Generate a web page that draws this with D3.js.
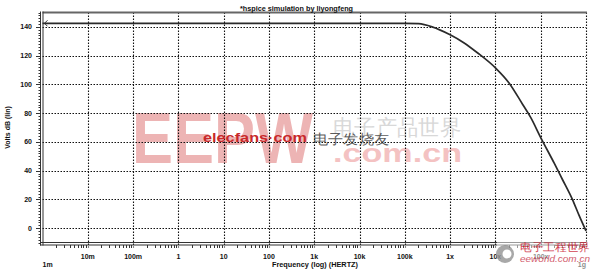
<!DOCTYPE html>
<html>
<head>
<meta charset="utf-8">
<script src="https://cdn.jsdelivr.net/npm/d3@7"></script>
<style>
  body { margin: 0; background: #fff; }
  text { font-family: "Liberation Sans", Arial, sans-serif; }
</style>
</head>
<body>
<svg id="svg1" width="593" height="274"></svg>
<script>
// frequency tick values and their labels (hspice style: x = meg)
var tickFreqs = [1e-3, 1e-2, 1e-1, 1, 10, 100, 1e3, 1e4, 1e5, 1e6, 1e7, 1e8, 1e9];
var tickNames = ["1m", "10m", "100m", "1", "10", "100", "1k", "10k", "100k", "1x", "10x", "100x", "1g"];
var dbTicks = [0, 20, 40, 60, 80, 100, 120, 140];

// response
var freq = [1e-3, 1e3, 1e5, 2e5, 4e5, 1e6, 2e6, 4e6, 1e7, 2e7, 4e7, 6e7, 1e8, 2e8, 3e8, 5e8, 7e8, 1e9];
var gain = [142.5, 142.5, 142.5, 142.2, 140, 134.5, 129, 122, 111.5, 101, 86, 77, 63, 45, 34, 20, 9, -2];

var svg = d3.select("#svg1"),
    margin = {top: 12.5, right: 7, bottom: 31.5, left: 42.5},
    width = +svg.attr("width") - margin.left - margin.right,
    height = +svg.attr("height") - margin.top - margin.bottom;

var x = d3.scaleLog().domain([1e-3, 1e9]).range([margin.left, margin.left + width]);
var y = d3.scaleLinear().domain([-10, 150]).range([margin.top + height, margin.top]);

var x0 = x.range()[0], x1 = x.range()[1], yb = y(-10), yt = y(150);

// watermarks (behind the grid)
var wm = svg.append("g").attr("class", "wm");
wm.append("text").attr("x", 132).attr("y", 163).text("EEPW")
  .attr("font-family", "Liberation Sans").attr("font-weight", "bold").attr("font-size", 72)
  .attr("textLength", 181).attr("lengthAdjust", "spacingAndGlyphs")
  .attr("fill", "#e07878").attr("opacity", 0.55);
wm.append("text").attr("x", 333).attr("y", 162).text(".com.cn")
  .attr("font-weight", "bold").attr("font-size", 26)
  .attr("textLength", 129).attr("lengthAdjust", "spacingAndGlyphs")
  .attr("fill", "#ee9a9a").attr("opacity", 0.6);
wm.append("text").attr("x", 333).attr("y", 135).text("电子产品世界")
  .attr("font-family", "Noto Sans CJK SC").attr("font-size", 22)
  .attr("textLength", 128).attr("lengthAdjust", "spacingAndGlyphs")
  .attr("fill", "#aaa").attr("opacity", 0.45);

// grid
var grid = svg.append("g").attr("stroke", "#111").attr("stroke-dasharray", "1.5,1.5").attr("stroke-width", 1.1);
grid.selectAll(".vg").data(tickFreqs.slice(1)).enter().append("line")
  .attr("x1", function(d) { return Math.round(x(d)) + 0.5; })
  .attr("x2", function(d) { return Math.round(x(d)) + 0.5; })
  .attr("y1", yt).attr("y2", yb + 5);
grid.selectAll(".hg").data(dbTicks).enter().append("line")
  .attr("x1", x0).attr("x2", x1)
  .attr("y1", function(d) { return Math.round(y(d)) + 0.5; })
  .attr("y2", function(d) { return Math.round(y(d)) + 0.5; });

// frame
svg.append("line").attr("x1", x0).attr("x2", x1 + 1).attr("y1", yt).attr("y2", yt)
  .attr("stroke", "#666").attr("stroke-width", 2);
[40.5, 43].forEach(function(p) {
  svg.append("line").attr("x1", p).attr("x2", p).attr("y1", yt - 1).attr("y2", yb + 3)
    .attr("stroke", "#333").attr("stroke-width", 1);
});
[yb, yb + 2.5].forEach(function(p) {
  svg.append("line").attr("x1", 40).attr("x2", x1).attr("y1", p).attr("y2", p)
    .attr("stroke", "#333").attr("stroke-width", 1);
});

// y ticks
var ax = svg.append("g").attr("stroke", "#333").attr("stroke-width", 1);
ax.selectAll(".ym").data(d3.range(-10, 151, 2)).enter().append("line")
  .attr("x1", function(d) { return d % 20 === 0 ? 36 : 38.5; }).attr("x2", 40.5)
  .attr("y1", function(d) { return Math.round(y(d)) + 0.5; })
  .attr("y2", function(d) { return Math.round(y(d)) + 0.5; });

// x minor ticks
var minor = [];
tickFreqs.slice(0, -1).forEach(function(f) { for (var k = 2; k < 10; k++) minor.push(f * k); });
ax.selectAll(".xm").data(minor).enter().append("line")
  .attr("x1", function(d) { return Math.round(x(d)) + 0.5; })
  .attr("x2", function(d) { return Math.round(x(d)) + 0.5; })
  .attr("y1", yb + 2.5).attr("y2", yb + 5.5);

// tick labels
var lab = svg.append("g").attr("font-size", 7).attr("font-weight", "bold").attr("fill", "#111");
lab.selectAll(".yl").data(dbTicks).enter().append("text")
  .attr("x", 32).attr("y", function(d) { return y(d) + 2.5; })
  .attr("text-anchor", "end").text(function(d) { return d; });
lab.selectAll(".xl").data(tickFreqs).enter().append("text")
  .attr("x", function(d, i) { return i === 0 ? x0 : (i === tickFreqs.length - 1 ? x1 : x(d)); })
  .attr("y", function(d, i) { return (i === 0 || i === tickFreqs.length - 1) ? 267 : 258.5; })
  .attr("text-anchor", function(d, i) { return i === 0 ? "start" : (i === tickFreqs.length - 1 ? "end" : "middle"); })
  .text(function(d, i) { return tickNames[i]; });

// titles
svg.append("text").attr("x", 296.5).attr("y", 10.5).attr("text-anchor", "middle")
  .attr("font-size", 7).attr("font-weight", "bold").attr("fill", "#111")
  .attr("textLength", 113).attr("lengthAdjust", "spacingAndGlyphs")
  .text("*hspice simulation by liyongfeng");
svg.append("text").attr("x", 315).attr("y", 267).attr("text-anchor", "middle")
  .attr("font-size", 7).attr("font-weight", "bold").attr("fill", "#111")
  .attr("textLength", 86).attr("lengthAdjust", "spacingAndGlyphs")
  .text("Frequency (log) (HERTZ)");
svg.append("text").attr("transform", "translate(9.5," + ((yt + yb) / 2) + ") rotate(-90)")
  .attr("text-anchor", "middle").attr("font-size", 7).attr("font-weight", "bold").attr("fill", "#111")
  .text("Volts dB (lin)");

// curve
var data = freq.map(function(f, i) { return {f: f, v: gain[i]}; });
var line = d3.line()
  .x(function(d) { return x(d.f); })
  .y(function(d) { return y(d.v); })
  .curve(d3.curveMonotoneX);
svg.append("path").datum(data).attr("d", line)
  .attr("fill", "none").attr("stroke", "#2a2a2a").attr("stroke-width", 1.7);

// start marker
var sx = x(freq[0]) + 2, sy = y(gain[0]);
svg.append("path").attr("d", "M" + (sx + 3) + "," + (sy - 3) + "L" + sx + "," + sy + "L" + (sx + 3) + "," + (sy + 3))
  .attr("fill", "none").attr("stroke", "#333").attr("stroke-width", 1);

// foreground watermarks
svg.append("text").attr("x", 203).attr("y", 142).text("elecfans·com")
  .attr("font-size", 13).attr("font-weight", "bold")
  .attr("textLength", 104).attr("lengthAdjust", "spacingAndGlyphs").attr("fill", "#c8282a");
svg.append("text").attr("x", 313).attr("y", 144).text("电子发烧友")
  .attr("font-family", "Noto Sans CJK SC").attr("font-size", 14)
  .attr("textLength", 76).attr("lengthAdjust", "spacingAndGlyphs").attr("fill", "#333").attr("opacity", 0.8);

// bottom-right logo
var logo = svg.append("g").attr("opacity", 0.85);
logo.append("rect").attr("x", 497).attr("y", 241).attr("width", 96).attr("height", 33).attr("fill", "#fff").attr("opacity", 0.6);
logo.append("circle").attr("cx", 505).attr("cy", 254).attr("r", 9).attr("fill", "#999");
logo.append("circle").attr("cx", 507).attr("cy", 254).attr("r", 4.5).attr("fill", "#fff");
logo.append("text").attr("x", 520).attr("y", 251).text("电子工程世界")
  .attr("font-family", "Noto Sans CJK SC").attr("font-size", 11).attr("fill", "#c23")
  .attr("textLength", 70).attr("lengthAdjust", "spacingAndGlyphs");
logo.append("text").attr("x", 520).attr("y", 262).text("eeworld.com.cn")
  .attr("font-size", 9).attr("font-style", "italic").attr("fill", "#c45")
  .attr("textLength", 70).attr("lengthAdjust", "spacingAndGlyphs");
</script>
</body>
</html>
